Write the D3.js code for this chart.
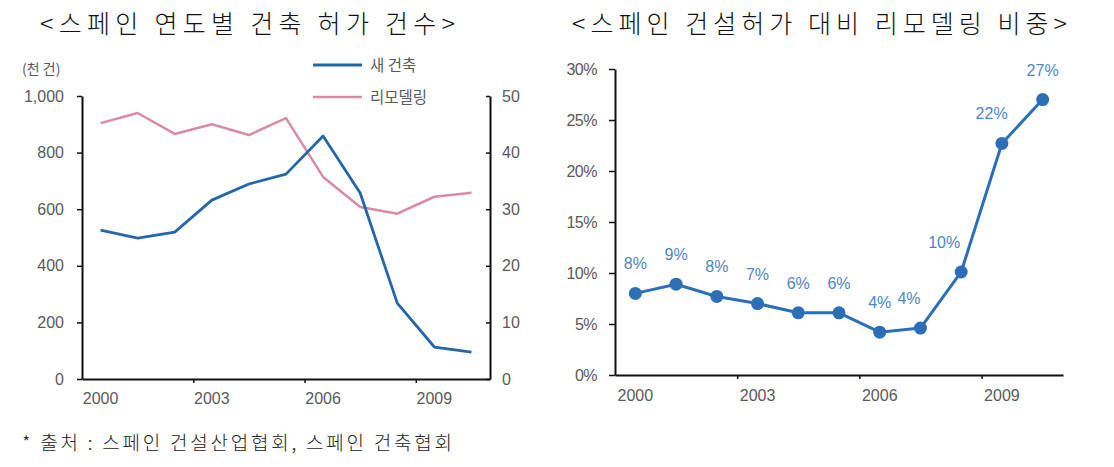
<!DOCTYPE html>
<html><head><meta charset="utf-8">
<script src="https://cdn.jsdelivr.net/npm/d3@7"></script>
<style>
html,body{margin:0;padding:0;background:#fff;}
svg{display:block;}
.num{font-family:"Liberation Sans Narrow","Liberation Sans",Arial,sans-serif;}
</style></head>
<body>
<svg id="c" width="1114" height="467"></svg>
<script>
// ---- data ----
const years = ["2000","2001","2002","2003","2004","2005","2006","2007","2008","2009","2010"];
const xTickLabels = ["2000","2003","2006","2009"];
const newBuild = [526, 498, 519, 632, 689, 724, 859, 657, 268, 113, 95];      // 천 건, left axis
const remodel  = [45.2, 47.0, 43.3, 45.0, 43.1, 46.1, 35.7, 30.4, 29.2, 32.2, 32.9]; // right axis
const remodelShare = [8.0, 8.9, 7.7, 7.0, 6.1, 6.1, 4.2, 4.6, 10.1, 22.7, 27.0];
const shareLabels = ["8%","9%","8%","7%","6%","6%","4%","4%","10%","22%","27%"];
const leftTicks = [0,200,400,600,800,1000];
const rightTicks = [0,10,20,30,40,50];
const pctTicks = [0,5,10,15,20,25,30];
const seriesNames = ["새 건축","리모델링"];
const titleLeft = "<스페인 연도별 건축 허가 건수>";
const titleRight = "<스페인 건설허가 대비 리모델링 비중>";
const unitLabel = "(천 건)";
const footnote = "* 출처 : 스페인 건설산업협회, 스페인 건축협회";

const svg = d3.select("#c");
const gray = "#5a5a5a";
const blue = "#2566ab";
const pink = "#d98ba6";
const blue2 = "#2d6fb6";
const labelBlue = "#4b87c4";
const serif = "'Noto Sans CJK KR', sans-serif";

// titles
svg.append("text").attr("x",40).attr("y",33).attr("textLength",415).attr("lengthAdjust","spacing")
  .style("font-family",serif).style("font-size","25px").style("font-weight","300").attr("fill","#111").text(titleLeft);
svg.append("text").attr("x",572).attr("y",33).attr("textLength",495).attr("lengthAdjust","spacing")
  .style("font-family",serif).style("font-size","25px").style("font-weight","300").attr("fill","#111").text(titleRight);
svg.append("text").attr("x",22).attr("y",450).attr("textLength",430).attr("lengthAdjust","spacing")
  .style("font-family",serif).style("font-size","19px").style("font-weight","300").attr("fill","#222").text(footnote);

// ===== left chart =====
const L = {x0:82, x1:490, yTop:96, yBot:379};
const xL = d3.scaleBand().domain(years).range([L.x0, L.x1]);
const xLi = d3.scaleLinear().domain([0, years.length]).range([L.x0, L.x1]);
const yL = d3.scaleLinear().domain([0,1000]).range([L.yBot, L.yTop]);
const yR = d3.scaleLinear().domain([0,50]).range([L.yBot, L.yTop]);

function styleAxis(g){
  g.select(".domain").attr("stroke","#111").attr("stroke-width",2);
  g.selectAll(".tick line").attr("stroke","#111").attr("stroke-width",1.5);
  g.selectAll("text").attr("fill",gray).attr("class","num").style("font-size","16px");
}

const gLeftAx = svg.append("g").attr("transform",`translate(${L.x0},0)`)
  .call(d3.axisLeft(yL).tickValues(leftTicks).tickFormat(d3.format(",")).tickSize(5).tickSizeOuter(0).tickPadding(13));
styleAxis(gLeftAx);
const gRightAx = svg.append("g").attr("transform",`translate(${L.x1},0)`)
  .call(d3.axisRight(yR).tickValues(rightTicks).tickSize(-4).tickSizeOuter(0).tickPadding(12));
styleAxis(gRightAx);
const gBotTicks = svg.append("g").attr("transform",`translate(0,${L.yBot})`)
  .call(d3.axisBottom(xLi).tickValues([3,6,9]).tickFormat("").tickSize(4).tickSizeOuter(0));
styleAxis(gBotTicks);
const gBotLab = svg.append("g").attr("transform",`translate(0,${L.yBot})`)
  .call(d3.axisBottom(xL).tickValues(xTickLabels).tickSize(0).tickPadding(14));
gBotLab.select(".domain").remove();
styleAxis(gBotLab);

const lineL = d3.line().x((d,i)=>xL(years[i])+xL.bandwidth()/2).y(d=>yL(d));
const lineR = d3.line().x((d,i)=>xL(years[i])+xL.bandwidth()/2).y(d=>yR(d));
svg.append("path").datum(remodel).attr("d",lineR).attr("fill","none").attr("stroke",pink).attr("stroke-width",2.5).attr("stroke-linejoin","round");
svg.append("path").datum(newBuild).attr("d",lineL).attr("fill","none").attr("stroke",blue).attr("stroke-width",2.8).attr("stroke-linejoin","round");

// unit label
svg.append("text").attr("x",22).attr("y",74).attr("fill",gray).style("font-family",serif).style("font-size","14px").text(unitLabel);

// legend
const legColors = [blue, pink];
const legY = [65, 97];
seriesNames.forEach((n,i)=>{
  svg.append("line").attr("x1",313).attr("x2",362).attr("y1",legY[i]).attr("y2",legY[i])
    .attr("stroke",legColors[i]).attr("stroke-width",i===0?3:2.5);
  svg.append("text").attr("x",370).attr("y",legY[i]+6).attr("fill",gray)
    .style("font-family",serif).style("font-size","15.5px").text(n);
});

// ===== right chart =====
const R = {x0:615, x1:1063, yTop:69, yBot:375};
const xP = d3.scaleBand().domain(years).range([R.x0, R.x1]);
const xPi = d3.scaleLinear().domain([0, years.length]).range([R.x0, R.x1]);
const yP = d3.scaleLinear().domain([0,30]).range([R.yBot, R.yTop]);

const gPAx = svg.append("g").attr("transform",`translate(${R.x0},0)`)
  .call(d3.axisLeft(yP).tickValues(pctTicks).tickFormat(d=>d+"%").tickSize(6).tickSizeOuter(0).tickPadding(12));
styleAxis(gPAx);
gPAx.selectAll("text").style("letter-spacing","-0.5px");
const gPBot = svg.append("g").attr("transform",`translate(0,${R.yBot})`)
  .call(d3.axisBottom(xPi).tickValues([3,6,9]).tickFormat("").tickSize(4).tickSizeOuter(0));
styleAxis(gPBot);
const gPLab = svg.append("g").attr("transform",`translate(0,${R.yBot})`)
  .call(d3.axisBottom(xP).tickValues(xTickLabels).tickSize(0).tickPadding(15));
gPLab.select(".domain").remove();
styleAxis(gPLab);

const cx = (i)=>xP(years[i])+xP.bandwidth()/2;
const lineP = d3.line().x((d,i)=>cx(i)).y(d=>yP(d));
svg.append("path").datum(remodelShare).attr("d",lineP).attr("fill","none").attr("stroke",blue2).attr("stroke-width",3).attr("stroke-linejoin","round");
svg.append("g").selectAll("circle").data(remodelShare).join("circle")
  .attr("cx",(d,i)=>cx(i)).attr("cy",d=>yP(d)).attr("r",6.5).attr("fill",blue2);
svg.append("g").selectAll("text").data(remodelShare).join("text")
  .attr("class","num")
  .attr("x",(d,i)=>{
    const nxt = remodelShare[i+1];
    const rise = nxt===undefined?0:nxt-d;
    return cx(i) + (rise>3 ? -Math.min(17, 6+rise) : 0);
  })
  .attr("y",d=>yP(d)-24)
  .attr("text-anchor","middle").attr("fill",labelBlue).style("font-size","16px")
  .text((d,i)=>shareLabels[i]);
</script>
</body></html>
